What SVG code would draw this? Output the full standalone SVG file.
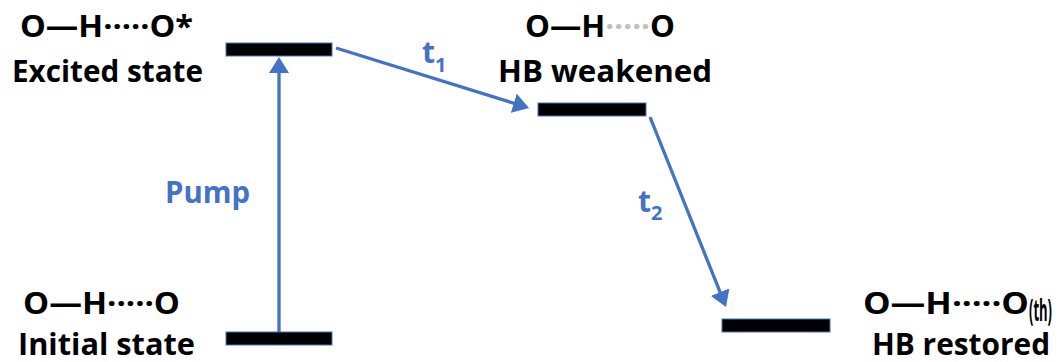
<svg xmlns="http://www.w3.org/2000/svg" width="1061" height="362" viewBox="0 0 1061 362">
  <style>
    .lbl { font-family: "Open Sans", "Liberation Sans", sans-serif; font-weight: 700; font-size: 30px; fill: #000; }
    .blue { fill: #4472C4; }
    .sub { font-size: 20px; }
    .dim { fill: #BFBFBF; }
    .level { fill: #000; stroke: #4472C4; stroke-width: 1; }
    .conn { stroke: #4472C4; stroke-width: 3.3; fill: none; marker-end: url(#head); }
  </style>
  <defs>
    <marker id="head" markerUnits="userSpaceOnUse" viewBox="0 0 16 20" markerWidth="16" markerHeight="20" refX="6" refY="10" orient="auto">
      <path d="M0,0 L16,10 L0,20 z" fill="#4472C4"/>
    </marker>
  </defs>

  <rect width="1061" height="362" fill="#fff"/>

  <!-- energy levels with their labels -->
  <g id="excited">
    <text class="lbl" x="20" y="37" textLength="173" lengthAdjust="spacingAndGlyphs">O—H·····O*</text>
    <text class="lbl" x="12" y="82" textLength="191" lengthAdjust="spacingAndGlyphs">Excited state</text>
    <rect class="level" x="226" y="43" width="106" height="13"/>
  </g>

  <g id="initial">
    <text class="lbl" x="23" y="314" textLength="157" lengthAdjust="spacingAndGlyphs">O—H·····O</text>
    <text class="lbl" x="18" y="355" textLength="177" lengthAdjust="spacingAndGlyphs">Initial state</text>
    <rect class="level" x="226" y="332" width="106" height="13"/>
  </g>

  <g id="weakened">
    <text class="lbl" x="525" y="37" textLength="150" lengthAdjust="spacingAndGlyphs">O—H<tspan class="dim">·····</tspan>O</text>
    <text class="lbl" x="498" y="82" textLength="214" lengthAdjust="spacingAndGlyphs">HB weakened</text>
    <rect class="level" x="538" y="103" width="108" height="13"/>
  </g>

  <g id="restored">
    <text class="lbl" x="863" y="314" textLength="166" lengthAdjust="spacingAndGlyphs">O—H·····O</text>
    <text class="lbl" x="1029" y="321" font-size="18" textLength="23" lengthAdjust="spacingAndGlyphs">(th)</text>
    <text class="lbl" x="872" y="355" textLength="178" lengthAdjust="spacingAndGlyphs">HB restored</text>
    <rect class="level" x="722" y="319" width="108" height="13"/>
  </g>

  <!-- transitions -->
  <g id="connectors">
    <line class="conn" x1="279" y1="332" x2="279" y2="67"/>
    <line class="conn" x1="336" y1="48" x2="519.5" y2="105"/>
    <line class="conn" x1="650" y1="117" x2="722.3" y2="297.7"/>
    <text class="lbl blue" x="165" y="203" textLength="85" lengthAdjust="spacingAndGlyphs">Pump</text>
    <text class="lbl blue" x="422" y="63">t<tspan class="sub" dy="9">1</tspan></text>
    <text class="lbl blue" x="638" y="212">t<tspan class="sub" dy="8">2</tspan></text>
  </g>
</svg>
